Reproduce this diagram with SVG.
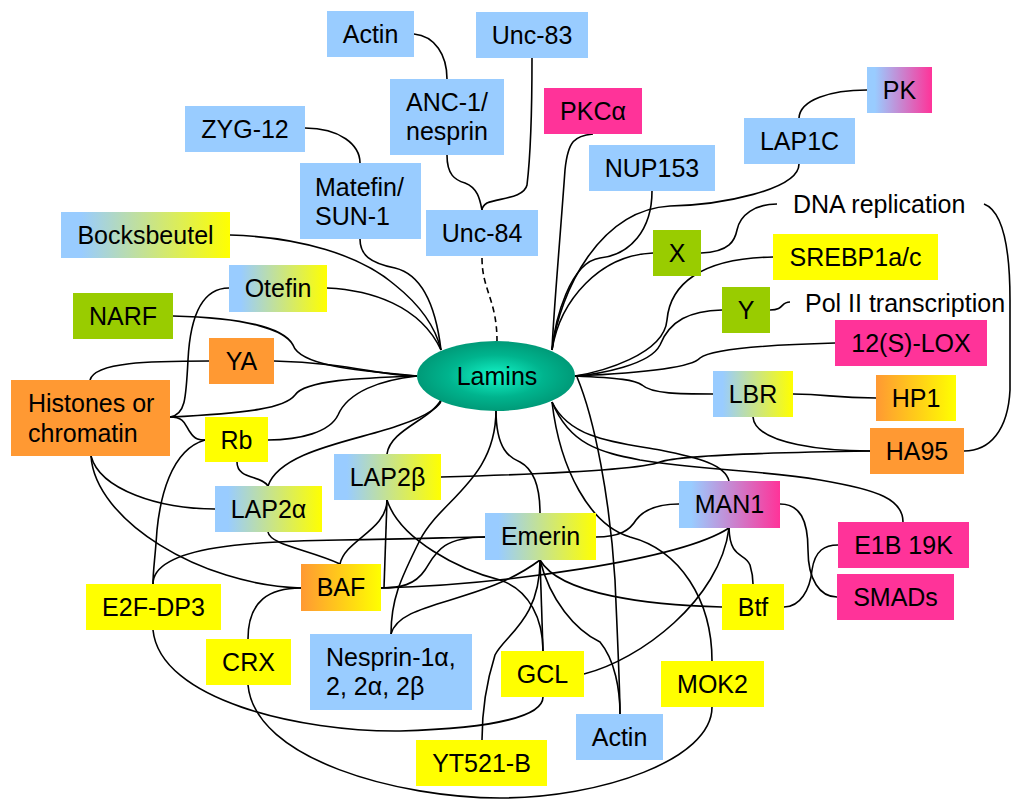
<svg xmlns="http://www.w3.org/2000/svg" width="1011" height="799" viewBox="0 0 1011 799">
<defs>
<linearGradient id="gBY" x1="0" y1="0" x2="1" y2="0"><stop offset="0" stop-color="#99CCFF"/><stop offset="0.12" stop-color="#99CCFF"/><stop offset="1" stop-color="#FFFF00"/></linearGradient>
<linearGradient id="gBP" x1="0" y1="0" x2="1" y2="0"><stop offset="0" stop-color="#99CCFF"/><stop offset="0.12" stop-color="#99CCFF"/><stop offset="1" stop-color="#FF3399"/></linearGradient>
<linearGradient id="gOY" x1="0" y1="0" x2="1" y2="0"><stop offset="0" stop-color="#FF9933"/><stop offset="1" stop-color="#FFFF00"/></linearGradient>
<radialGradient id="gL" cx="0.5" cy="0.5" r="0.5"><stop offset="0" stop-color="#14F5C8"/><stop offset="0.6" stop-color="#00B48E"/><stop offset="1" stop-color="#009A78"/></radialGradient>
<style>
.c{fill:none;stroke:#000;stroke-width:1.6}
.d{stroke-dasharray:6,4}
.b{fill:#99CCFF}.y{fill:#FFFF00}.p{fill:#FF3399}.o{fill:#FF9933}.g{fill:#99CC00}
.by{fill:url(#gBY)}.bp{fill:url(#gBP)}.oy{fill:url(#gOY)}
text{font-family:"Liberation Sans",Arial,sans-serif;font-size:25px;fill:#000}
.m{text-anchor:middle}
</style>
</defs>
<rect width="1011" height="799" fill="#fff"/>
<g id="connectors">
<path class="c d" d="M482,258 C482,290 497,300 497,341"/>
<path class="c" d="M305,128 C340,128 360,145 360,163"/>
<path class="c" d="M414,34 C435,36 447,55 447,79"/>
<path class="c" d="M447,155 C447,175 455,180 465,183 C478,188 480,200 482,210"/>
<path class="c" d="M532,58 C532,110 530,160 527,185 C524,198 500,198 487,203 C484,205 482,208 482,210"/>
<path class="c" d="M360,239 C360,255 370,263 395,268 C420,274 435,300 441,350"/>
<path class="c" d="M230,235 C300,237 360,255 395,285 C420,305 435,325 441,350"/>
<path class="c" d="M327,288 C370,290 420,305 441,350"/>
<path class="c" d="M173,316 C250,318 285,330 293,345 C300,365 350,370 417,376"/>
<path class="c" d="M274,361 C350,363 380,376 417,376"/>
<path class="c" d="M209,361 C150,361 95,362 90,380"/>
<path class="c" d="M170,417 C250,413 285,408 295,395 C305,380 360,378 417,376"/>
<path class="c" d="M229,288 C200,288 190,320 188,360 C186,400 185,415 170,417"/>
<path class="c" d="M170,417 C185,417 185,425 190,432 C195,440 200,440 205,440"/>
<path class="c" d="M268,440 C300,440 330,432 338,415 C348,392 380,380 417,376"/>
<path class="c" d="M205,440 C170,450 160,500 157,530 C155,560 153,570 153,584"/>
<path class="c" d="M237,462 C237,480 262,475 268,486"/>
<path class="c" d="M268,486 C280,450 360,440 400,425 C430,415 441,405 441,400"/>
<path class="c" d="M387,454 C390,430 430,420 441,400"/>
<path class="c" d="M91,456 C100,490 160,509 215,509"/>
<path class="c" d="M91,456 C95,520 200,585 301,588"/>
<path class="c" d="M268,532 C270,545 310,550 340,564"/>
<path class="c" d="M387,500 C387,530 345,540 340,564"/>
<path class="c" d="M387,500 L384,588"/>
<path class="c" d="M387,500 C400,540 460,570 500,580 C530,590 543,620 543,651"/>
<path class="c" d="M153,584 C153,545 260,541 340,540 C420,539 460,537 485,537"/>
<path class="c" d="M485,537 C440,537 435,555 425,570 C415,585 400,588 381,588"/>
<path class="c" d="M496,410 C496,480 440,500 420,540 C400,580 391,600 391,634"/>
<path class="c" d="M496,410 C496,450 510,458 520,462 C535,470 540,490 540,513"/>
<path class="c" d="M391,634 C400,600 480,605 540,560"/>
<path class="c" d="M540,560 L543,651"/>
<path class="c" d="M540,560 C540,620 505,635 495,655 C484,690 482,720 482,740"/>
<path class="c" d="M540,560 C560,595 650,605 722,607"/>
<path class="c" d="M540,560 C550,600 575,630 600,642 C615,660 620,690 620,714"/>
<path class="c" d="M381,588 C500,585 680,560 729,528"/>
<path class="c" d="M729,528 C720,600 640,660 584,674"/>
<path class="c" d="M729,528 C730,560 745,552 750,565 C753,575 753,580 753,584"/>
<path class="c" d="M596,537 C620,537 630,530 636,520 C645,508 660,504 679,504"/>
<path class="c" d="M153,630 C160,700 300,732 400,731 C500,728 543,715 543,697"/>
<path class="c" d="M248,639 C248,600 270,588 301,588"/>
<path class="c" d="M248,685 C255,760 400,798 500,798 C600,798 712,760 712,707"/>
<path class="c" d="M593,134 C575,136 568,140 565,170 C560,240 553,320 552,350"/>
<path class="c" d="M652,191 C652,230 630,255 600,258 C570,262 555,320 552,350"/>
<path class="c" d="M799,164 C799,190 720,205 670,206 C600,210 560,290 552,350"/>
<path class="c" d="M653,253 C600,255 560,300 552,350"/>
<path class="c" d="M773,257 C700,258 670,285 667,320 C664,355 600,372 575,376"/>
<path class="c" d="M722,310 C690,311 670,320 660,345 C650,365 600,374 575,376"/>
<path class="c" d="M835,343 C760,345 710,350 700,358 C690,370 620,374 575,376"/>
<path class="c" d="M575,376 C620,378 635,380 642,385 C652,394 680,394 713,394"/>
<path class="c" d="M793,394 C830,394 830,398 876,398"/>
<path class="c" d="M753,417 C755,445 830,451 870,451"/>
<path class="c" d="M441,477 C550,474 640,470 660,462 C680,455 800,452 870,451"/>
<path class="c" d="M984,204 C1000,210 1010,240 1010,300 L1010,390 C1008,430 990,451 964,451"/>
<path class="c" d="M701,253 C730,252 735,240 737,230 C740,215 755,204 777,204"/>
<path class="c" d="M770,310 C785,310 780,302 790,302"/>
<path class="c" d="M799,118 C800,100 830,90 867,90"/>
<path class="c" d="M552,402 C570,440 620,443 660,450 C700,458 725,465 729,481"/>
<path class="c" d="M552,402 C570,445 600,452 640,460 C700,470 760,470 820,480 C880,490 903,500 903,522"/>
<path class="c" d="M552,402 C560,470 590,525 630,537 C680,550 712,600 712,661"/>
<path class="c" d="M577,377 C595,420 610,500 615,580 C618,650 620,690 620,714"/>
<path class="c" d="M780,504 C800,504 808,520 808,550 C808,580 820,597 837,597"/>
<path class="c" d="M784,607 C800,607 810,590 812,570 C815,550 825,545 838,545"/>
</g>
<g id="lamins"><ellipse cx="496" cy="376" rx="79" ry="35" fill="url(#gL)"/><text class="m" x="497" y="385">Lamins</text></g>
<g id="actin1"><rect class="b" x="327" y="11" width="87" height="46"/><text class="m" x="370.5" y="43">Actin</text></g>
<g id="unc83"><rect class="b" x="476" y="12" width="112" height="46"/><text class="m" x="532" y="44">Unc-83</text></g>
<g id="anc1"><rect class="b" x="390" y="79" width="114" height="76"/><text class="m" x="447" y="111">ANC-1/</text><text class="m" x="447" y="140">nesprin</text></g>
<g id="pkca"><rect class="p" x="544" y="88" width="98" height="46"/><text class="m" x="593" y="120">PKCα</text></g>
<g id="nup153"><rect class="b" x="589" y="145" width="126" height="46"/><text class="m" x="652" y="177">NUP153</text></g>
<g id="lap1c"><rect class="b" x="744" y="118" width="111" height="46"/><text class="m" x="799.5" y="150">LAP1C</text></g>
<g id="pk"><rect class="bp" x="867" y="67" width="65" height="46"/><text class="m" x="899.5" y="99">PK</text></g>
<g id="zyg12"><rect class="b" x="185" y="106" width="120" height="46"/><text class="m" x="245" y="138">ZYG-12</text></g>
<g id="matefin"><rect class="b" x="300" y="163" width="121" height="76"/><text x="315" y="196">Matefin/</text><text x="315" y="225">SUN-1</text></g>
<g id="unc84"><rect class="b" x="426" y="210" width="112" height="46"/><text class="m" x="482" y="242">Unc-84</text></g>
<g id="bocksbeutel"><rect class="by" x="61" y="212" width="169" height="46"/><text class="m" x="145.5" y="244">Bocksbeutel</text></g>
<g id="dna"><text x="793" y="213">DNA replication</text></g>
<g id="x"><rect class="g" x="653" y="230" width="48" height="46"/><text class="m" x="677" y="262">X</text></g>
<g id="srebp"><rect class="y" x="773" y="234" width="165" height="46"/><text class="m" x="855.5" y="266">SREBP1a/c</text></g>
<g id="y"><rect class="g" x="722" y="287" width="48" height="46"/><text class="m" x="746" y="319">Y</text></g>
<g id="pol2"><text x="805" y="312">Pol II transcription</text></g>
<g id="lox"><rect class="p" x="835" y="320" width="152" height="46"/><text class="m" x="911" y="352">12(S)-LOX</text></g>
<g id="lbr"><rect class="by" x="713" y="371" width="80" height="46"/><text class="m" x="753" y="403">LBR</text></g>
<g id="hp1"><rect class="oy" x="876" y="375" width="80" height="46"/><text class="m" x="916" y="407">HP1</text></g>
<g id="ha95"><rect class="o" x="870" y="428" width="94" height="46"/><text class="m" x="917" y="460">HA95</text></g>
<g id="man1"><rect class="bp" x="679" y="481" width="101" height="47"/><text class="m" x="729.5" y="513">MAN1</text></g>
<g id="e1b"><rect class="p" x="838" y="522" width="131" height="46"/><text class="m" x="903.5" y="554">E1B 19K</text></g>
<g id="smads"><rect class="p" x="837" y="574" width="117" height="46"/><text class="m" x="895.5" y="606">SMADs</text></g>
<g id="btf"><rect class="y" x="722" y="584" width="62" height="46"/><text class="m" x="753" y="616">Btf</text></g>
<g id="mok2"><rect class="y" x="661" y="661" width="103" height="46"/><text class="m" x="712.5" y="693">MOK2</text></g>
<g id="actin2"><rect class="b" x="576" y="714" width="87" height="46"/><text class="m" x="619.5" y="746">Actin</text></g>
<g id="yt521b"><rect class="y" x="416" y="740" width="131" height="46"/><text class="m" x="481.5" y="772">YT521-B</text></g>
<g id="gcl"><rect class="y" x="501" y="651" width="83" height="46"/><text class="m" x="542.5" y="683">GCL</text></g>
<g id="nesprin"><rect class="b" x="310" y="634" width="162" height="76"/><text x="326" y="666">Nesprin-1α,</text><text x="326" y="695">2, 2α, 2β</text></g>
<g id="emerin"><rect class="by" x="485" y="513" width="111" height="47"/><text class="m" x="540.5" y="545">Emerin</text></g>
<g id="baf"><rect class="oy" x="301" y="564" width="80" height="47"/><text class="m" x="341" y="596">BAF</text></g>
<g id="crx"><rect class="y" x="206" y="639" width="85" height="46"/><text class="m" x="248.5" y="671">CRX</text></g>
<g id="e2f"><rect class="y" x="86" y="584" width="135" height="46"/><text class="m" x="153.5" y="616">E2F-DP3</text></g>
<g id="lap2a"><rect class="by" x="215" y="486" width="107" height="46"/><text class="m" x="268.5" y="518">LAP2α</text></g>
<g id="lap2b"><rect class="by" x="334" y="454" width="107" height="46"/><text class="m" x="387.5" y="486">LAP2β</text></g>
<g id="rb"><rect class="y" x="205" y="417" width="63" height="45"/><text class="m" x="236.5" y="449">Rb</text></g>
<g id="histones"><rect class="o" x="11" y="380" width="159" height="76"/><text x="28" y="412">Histones or</text><text x="28" y="442">chromatin</text></g>
<g id="ya"><rect class="o" x="209" y="338" width="65" height="46"/><text class="m" x="241.5" y="370">YA</text></g>
<g id="narf"><rect class="g" x="73" y="293" width="100" height="46"/><text class="m" x="123" y="325">NARF</text></g>
<g id="otefin"><rect class="by" x="229" y="265" width="98" height="47"/><text class="m" x="278" y="297">Otefin</text></g>
</svg>
